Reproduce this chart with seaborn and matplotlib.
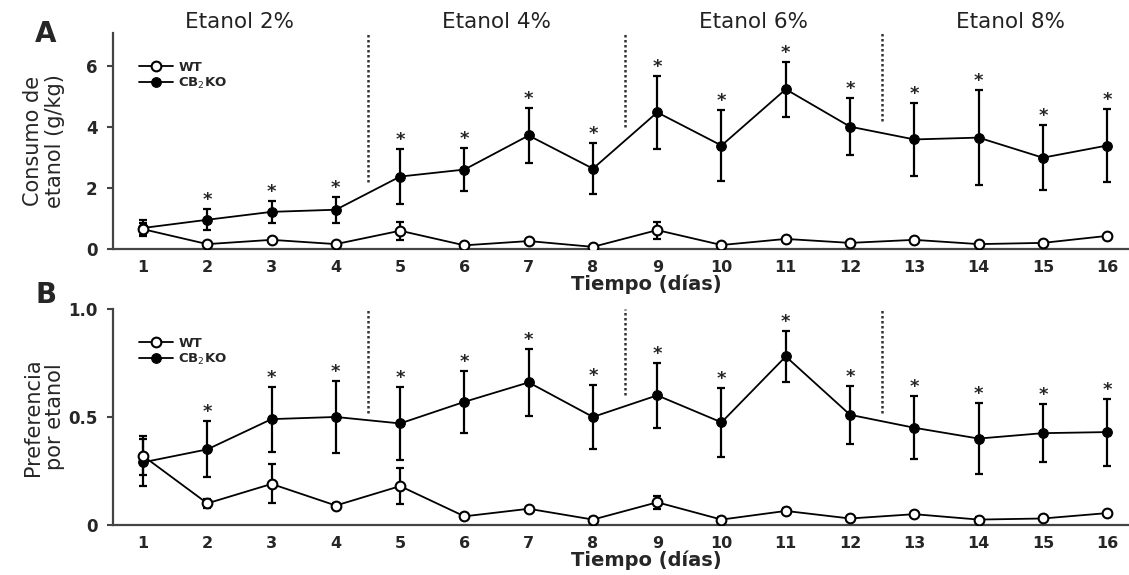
import numpy as np
import pandas as pd
import matplotlib
matplotlib.use('Agg')
import matplotlib.pyplot as plt
import seaborn as sns

# Datos
dias = list(range(1, 17))

# Panel A: consumo de etanol (g/kg)
consumo_wt = [0.65, 0.16, 0.30, 0.16, 0.60, 0.12, 0.26, 0.07, 0.62, 0.13, 0.33, 0.20, 0.30, 0.16, 0.20, 0.43]
consumo_wt_err = [0.20, 0.05, 0.05, 0.04, 0.30, 0.04, 0.05, 0.03, 0.28, 0.04, 0.05, 0.04, 0.05, 0.04, 0.04, 0.05]
consumo_ko = [0.69, 0.96, 1.22, 1.29, 2.38, 2.61, 3.73, 2.64, 4.49, 3.40, 5.25, 4.02, 3.60, 3.66, 3.00, 3.40]
consumo_ko_err = [0.25, 0.35, 0.37, 0.42, 0.90, 0.72, 0.90, 0.83, 1.20, 1.17, 0.90, 0.93, 1.20, 1.55, 1.07, 1.20]

# Panel B: preferencia por etanol
pref_wt = [0.32, 0.10, 0.19, 0.09, 0.18, 0.04, 0.075, 0.025, 0.105, 0.025, 0.065, 0.03, 0.05, 0.025, 0.03, 0.055]
pref_wt_err = [0.09, 0.02, 0.09, 0.01, 0.085, 0.01, 0.01, 0.01, 0.03, 0.01, 0.015, 0.01, 0.01, 0.01, 0.01, 0.01]
pref_ko = [0.29, 0.35, 0.49, 0.50, 0.47, 0.57, 0.66, 0.50, 0.60, 0.475, 0.78, 0.51, 0.45, 0.40, 0.425, 0.43]
pref_ko_err = [0.11, 0.13, 0.15, 0.165, 0.17, 0.145, 0.155, 0.15, 0.15, 0.16, 0.12, 0.135, 0.145, 0.165, 0.135, 0.155]

# dias con diferencia significativa (*)
signif = list(range(2, 17))

# separadores de concentracion y etiquetas
separadores = [4.5, 8.5, 12.5]
sep_inicio_a = [2.2, 4.0, 4.2]
sep_inicio_b = [0.52, 0.60, 0.52]
etanol_labels = ['Etanol 2%', 'Etanol 4%', 'Etanol 6%', 'Etanol 8%']
etanol_centros = [2.5, 6.5, 10.5, 14.5]

sns.set_style('ticks')
plt.rcParams['font.family'] = ['DejaVu Sans']

fig = plt.figure(figsize=(11.29, 5.75), dpi=100)
ax_a = fig.add_axes([0.1001, 0.567, 0.8999, 0.3757])
ax_b = fig.add_axes([0.1001, 0.087, 0.8999, 0.3757])


def panel(ax, wt, wt_err, ko, ko_err, ylim, yticks, yticklabels, ylabel, sep_ini):
    df = pd.DataFrame({'dia': dias * 2,
                       'valor': wt + ko,
                       'grupo': ['WT'] * 16 + ['CB$_2$KO'] * 16})
    ax.errorbar(dias, ko, yerr=ko_err, fmt='none', ecolor='black',
                elinewidth=1.6, capsize=3, capthick=1.6, zorder=2)
    ax.errorbar(dias, wt, yerr=wt_err, fmt='none', ecolor='black',
                elinewidth=1.6, capsize=3, capthick=1.6, zorder=2)
    sns.lineplot(data=df[df.grupo == 'WT'], x='dia', y='valor', ax=ax,
                 color='black', marker='o', markersize=7, markerfacecolor='white',
                 markeredgecolor='black', markeredgewidth=1.5, linewidth=1.3,
                 label='WT', zorder=4)
    sns.lineplot(data=df[df.grupo != 'WT'], x='dia', y='valor', ax=ax,
                 color='black', marker='o', markersize=7, markerfacecolor='black',
                 markeredgecolor='black', linewidth=1.3,
                 label='CB$_2$KO', zorder=3)
    for d in signif:
        i = dias.index(d)
        ax.annotate('*', xy=(d, ko[i] + ko_err[i]), xytext=(0, 0),
                    textcoords='offset points', ha='center', va='bottom',
                    fontsize=13, fontweight='bold')
    for x, y0 in zip(separadores, sep_ini):
        ax.vlines(x, y0, ylim[1], colors='#333333', linestyles=(0, (1, 1)), linewidth=1.8)

    ax.set_xlim(0.533, 16.34)
    ax.set_ylim(*ylim)
    ax.set_xticks(dias)
    ax.set_xticklabels([str(d) for d in dias], fontweight='bold', fontsize=11.5)
    ax.set_yticks(yticks)
    ax.set_yticklabels(yticklabels, fontweight='bold', fontsize=12)
    ax.tick_params(axis='x', length=0, pad=8)
    ax.tick_params(axis='y', length=4, width=1.5, pad=7, color='#444444')
    ax.set_xlabel('Tiempo (días)', fontsize=14, fontweight='bold')
    ax.xaxis.set_label_coords(0.525, -0.12)
    ax.set_ylabel(ylabel, fontsize=15, linespacing=1.15)
    ax.yaxis.set_label_coords(-0.047, 0.5)
    sns.despine(ax=ax)
    for s in ['left', 'bottom']:
        ax.spines[s].set_linewidth(1.6)
        ax.spines[s].set_color('#444444')
    ax.legend(loc='upper left', bbox_to_anchor=(0.02, 0.895), frameon=False,
              handlelength=2.6, handletextpad=0.4, labelspacing=0.15,
              borderaxespad=0, prop={'weight': 'bold', 'size': 9.5})


panel(ax_a, consumo_wt, consumo_wt_err, consumo_ko, consumo_ko_err, (0, 7.1),
      [0, 2, 4, 6], ['0', '2', '4', '6'], 'Consumo de\netanol (g/kg)', sep_inicio_a)
panel(ax_b, pref_wt, pref_wt_err, pref_ko, pref_ko_err, (0, 1.0),
      [0, 0.5, 1.0], ['0', '0.5', '1.0'], 'Preferencia\npor etanol', sep_inicio_b)

for lab, c in zip(etanol_labels, etanol_centros):
    ax_a.text(c, 1.05, lab, transform=ax_a.get_xaxis_transform(), ha='center',
              va='center', fontsize=15.5, color='#222222')

fig.text(0.04, 0.941, 'A', fontsize=20, fontweight='bold', ha='center', va='center')
fig.text(0.041, 0.487, 'B', fontsize=20, fontweight='bold', ha='center', va='center')

fig.savefig('out.png', dpi=100, facecolor='white')
